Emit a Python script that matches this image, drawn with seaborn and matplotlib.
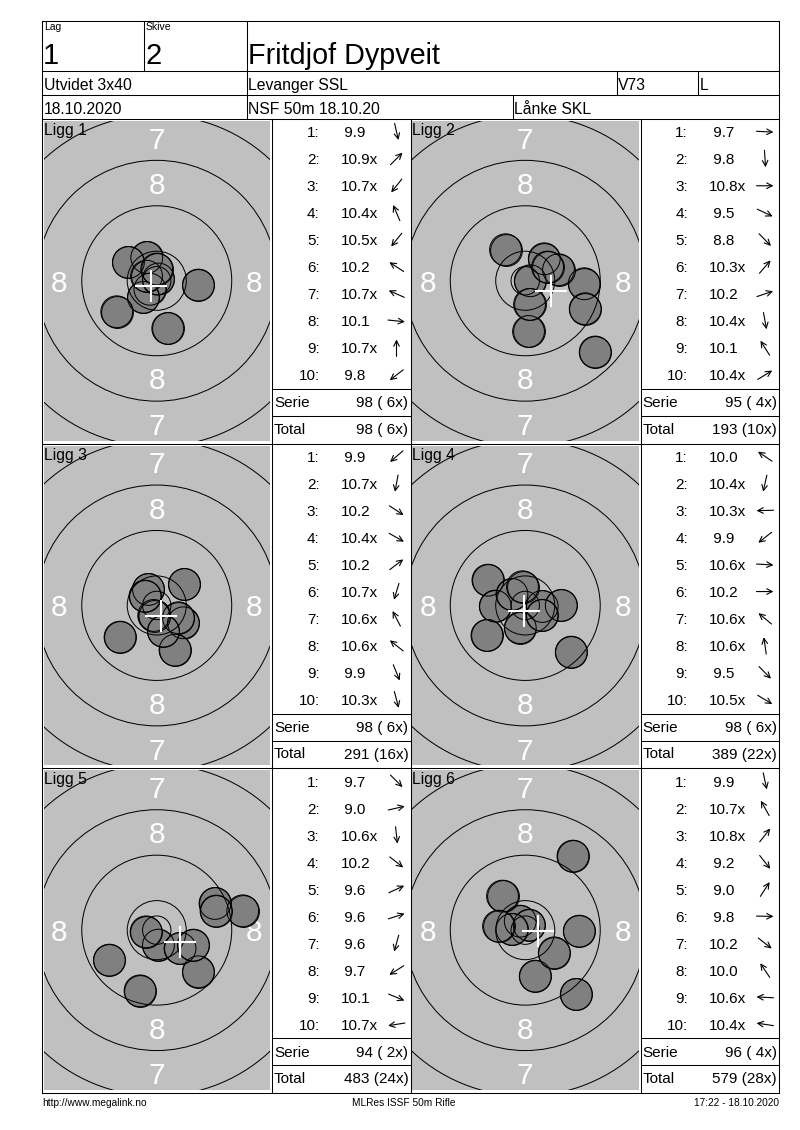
import math
import matplotlib
matplotlib.use("Agg")
import matplotlib.pyplot as plt
from matplotlib.patches import Circle
import seaborn as sns

plt.rcParams['font.family'] = ['Liberation Sans', 'DejaVu Sans']

# ---------------- data ----------------
LAG = "1"
SKIVE = "2"
NAME = "Fritdjof Dypveit"
CLASS_NAME = "Utvidet 3x40"
CLUB = "Levanger SSL"
CODE = "V73"
SIDE = "L"
DATE = "18.10.2020"
EVENT = "NSF 50m 18.10.20"
HOST = "Lånke SKL"
FOOTER_LEFT = "http://www.megalink.no"
FOOTER_MID = "MLRes ISSF 50m Rifle"
FOOTER_RIGHT = "17:22 - 18.10.2020"

TITLES = ["Ligg 1", "Ligg 2", "Ligg 3", "Ligg 4", "Ligg 5", "Ligg 6"]

L1_SCORE = ["9.9", "10.9x", "10.7x", "10.4x", "10.5x", "10.2", "10.7x", "10.1", "10.7x", "9.8"]
L1_X = [1.94, 0.30, -1.20, -1.76, -2.35, -4.99, -1.80, 7.34, 0.00, -7.04]
L1_Y = [-8.40, 0.30, -1.50, 4.10, -2.94, 3.23, 0.80, -0.76, 2.05, -5.46]

L2_SCORE = ["9.7", "9.8", "10.8x", "9.5", "8.8", "10.3x", "10.2", "10.4x", "10.1", "10.4x"]
L2_X = [10.39, 0.58, 0.88, 10.56, 12.32, 3.35, 5.86, 0.76, -3.47, 3.93]
L2_Y = [-0.53, -8.93, 0.00, -4.93, -12.55, 3.87, 1.94, -4.17, 5.46, 2.41]

L3_SCORE = ["9.9", "10.7x", "10.2", "10.4x", "10.2", "10.7x", "10.6x", "10.6x", "9.9", "10.3x"]
L3_X = [-6.46, -0.35, 4.70, 3.82, 4.88, -0.53, -1.46, -2.06, 3.22, 1.18]
L3_Y = [-5.58, -1.94, -3.05, -2.17, 3.70, -1.76, 2.82, 1.64, -7.87, -4.52]

L4_SCORE = ["10.0", "10.4x", "10.3x", "9.9", "10.6x", "10.2", "10.6x", "10.6x", "9.5", "10.5x"]
L4_X = [-6.57, -0.88, -5.28, -6.74, 2.99, 6.34, -2.34, -0.48, 8.10, 2.94]
L4_Y = [4.45, -3.93, -0.12, -5.28, -0.18, 0.00, 1.94, 3.29, -8.22, -1.76]

L5_SCORE = ["9.7", "9.0", "10.6x", "10.2", "9.6", "9.6", "9.6", "9.7", "10.1", "10.7x"]
L5_X = [7.34, 15.14, 0.30, 4.10, 10.26, 10.44, -2.94, -8.33, 6.46, -1.88]
L5_Y = [-7.34, 3.40, -2.64, -3.22, 4.70, 3.35, -10.69, -5.28, -2.64, -0.30]

L6_SCORE = ["9.9", "10.7x", "10.8x", "9.2", "9.0", "9.8", "10.2", "10.0", "10.6x", "10.4x"]
L6_X = [1.76, -0.88, 0.70, 8.98, 8.40, 9.51, 5.11, -4.00, -2.34, -4.70]
L6_Y = [-8.10, 1.58, 0.88, -11.32, 13.03, -0.18, -4.00, 5.99, 0.12, 0.70]

SERIE = ["98 ( 6x)", "95 ( 4x)", "98 ( 6x)", "98 ( 6x)", "94 ( 2x)", "96 ( 4x)"]
TOTAL = ["98 ( 6x)", "193 (10x)", "291 (16x)", "389 (22x)", "483 (24x)", "579 (28x)"]

RING_RADII_MM = [29.2, 21.2, 13.2, 5.2, 2.5]
RING_LABELS = ["7", "8"]          # zones between consecutive outer rings
SHOT_RADIUS_MM = 2.8

PANELS = [
    (L1_SCORE, L1_X, L1_Y), (L2_SCORE, L2_X, L2_Y),
    (L3_SCORE, L3_X, L3_Y), (L4_SCORE, L4_X, L4_Y),
    (L5_SCORE, L5_X, L5_Y), (L6_SCORE, L6_X, L6_Y),
]

# ---------------- layout (pixels) ----------------
W, H = 800, 1130
PX_PER_MM = 5.68
LEFT, RIGHT, TOP = 42, 779, 21
ROW1_B, ROW2_B, ROW3_B = 70.5, 94.5, 119
PANEL_H = 324.7
COL_X = [42, 410.5]
RECT_W, RECT_H = 226.5, 319.5
TABLE_OFF = 230
BOTTOM = ROW3_B + 3 * PANEL_H

LW = 0.75
BLACK = "black"

fig = plt.figure(figsize=(W / 100, H / 100), dpi=100)
fig.patch.set_facecolor("white")

# ---------------- targets ----------------
shot_s = (2 * SHOT_RADIUS_MM * PX_PER_MM * 0.72) ** 2
for k, (scores, xs, ys) in enumerate(PANELS):
    r, c = divmod(k, 2)
    x0 = COL_X[c]
    y0 = ROW3_B + r * PANEL_H
    rl, rt = x0 + 1.5, y0 + 2
    ax = fig.add_axes([rl / W, 1 - (rt + RECT_H) / H, RECT_W / W, RECT_H / H])
    ax.set_facecolor("#c0c0c0")
    for sp in ax.spines.values():
        sp.set_visible(False)
    ax.set_xticks([])
    ax.set_yticks([])

    # zone labels
    for lab, r_out, r_in in zip(RING_LABELS, RING_RADII_MM[:-1], RING_RADII_MM[1:]):
        rm = (r_out + r_in) / 2
        for px, py in [(0, rm), (0, -rm), (rm, 0), (-rm, 0)]:
            ax.text(px, py, lab, color="white", fontsize=21.5, ha="center",
                    va="center_baseline", clip_on=True, zorder=1.5)

    # shots: fill then all outlines
    sns.scatterplot(x=xs, y=ys, ax=ax, s=shot_s, color="#808080",
                    edgecolor=BLACK, linewidth=0.72, legend=False, zorder=2)
    ax.scatter(xs, ys, s=shot_s, facecolors="none", edgecolors=BLACK,
               linewidths=0.72, zorder=3)

    # rings
    for rr in RING_RADII_MM:
        ax.add_patch(Circle((0, 0), rr, fill=False, ec=BLACK, lw=0.72, zorder=4))

    # group centre cross
    mx = sum(xs) / len(xs)
    my = sum(ys) / len(ys)
    arm = SHOT_RADIUS_MM
    ax.plot([mx - arm, mx + arm], [my, my], color="white", lw=1.5, zorder=5,
            solid_capstyle="butt")
    ax.plot([mx, mx], [my - arm, my + arm], color="white", lw=1.5, zorder=5,
            solid_capstyle="butt")

    hw = RECT_W / 2 / PX_PER_MM
    hh = RECT_H / 2 / PX_PER_MM
    ax.set_xlim(-hw, hw)
    ax.set_ylim(-hh, hh)

# ---------------- overlay: frame, tables, text ----------------
ov = fig.add_axes([0, 0, 1, 1])
ov.set_zorder(10)
ov.set_xlim(0, W)
ov.set_ylim(H, 0)
ov.axis("off")


def hline(y, x1, x2):
    ov.plot([x1, x2], [y, y], color=BLACK, lw=LW, solid_capstyle="projecting")


def vline(x, y1, y2):
    ov.plot([x, x], [y1, y2], color=BLACK, lw=LW, solid_capstyle="projecting")


for y in [TOP, ROW1_B, ROW2_B, ROW3_B, ROW3_B + PANEL_H, ROW3_B + 2 * PANEL_H, BOTTOM]:
    hline(y, LEFT, RIGHT)
vline(LEFT, TOP, BOTTOM)
vline(RIGHT, TOP, BOTTOM)
vline(143.5, TOP, ROW1_B)
vline(246.5, TOP, ROW3_B)
vline(616.5, ROW1_B, ROW2_B)
vline(698, ROW1_B, ROW2_B)
vline(513, ROW2_B, ROW3_B)
for c in range(2):
    vline(COL_X[c] + TABLE_OFF, ROW3_B, BOTTOM)
vline(COL_X[1], ROW3_B, BOTTOM)

# header text
ov.text(44, 30.5, "Lag", fontsize=7.5, va="baseline", ha="left")
ov.text(146, 30.5, "Skive", fontsize=7.5, va="baseline", ha="left")
ov.text(43, 63.5, LAG, fontsize=21, va="baseline", ha="left")
ov.text(145.5, 63.5, SKIVE, fontsize=21, va="baseline", ha="left")
ov.text(247.5, 63.5, NAME, fontsize=20.7, va="baseline", ha="left")
ov.text(44, 90, CLASS_NAME, fontsize=11.3, va="baseline", ha="left")
ov.text(248, 90, CLUB, fontsize=11.3, va="baseline", ha="left")
ov.text(618, 90, CODE, fontsize=11.3, va="baseline", ha="left")
ov.text(700, 90, SIDE, fontsize=11.3, va="baseline", ha="left")
ov.text(44, 114.5, DATE, fontsize=11.3, va="baseline", ha="left")
ov.text(248, 114.5, EVENT, fontsize=11.3, va="baseline", ha="left")
ov.text(514.5, 114.5, HOST, fontsize=11.3, va="baseline", ha="left")

# panels: titles and tables
for k, (scores, xs, ys) in enumerate(PANELS):
    r, c = divmod(k, 2)
    x0 = COL_X[c]
    y0 = ROW3_B + r * PANEL_H
    tx = x0 + TABLE_OFF
    tr = RIGHT if c == 1 else COL_X[1]
    ov.text(x0 + 1.5, y0 + 16, TITLES[k], fontsize=11.3, va="baseline", ha="left")

    for i, (sc, sx, sy) in enumerate(zip(scores, xs, ys)):
        yc = y0 + 12.7 + 27.03 * i
        ov.text(tx + 47.5, yc, f"{i + 1}:", fontsize=11, ha="right", va="center_baseline")
        label = sc if sc.startswith("10") else " " + sc
        ov.text(tx + 68.5, yc, label, fontsize=11, ha="left", va="center_baseline")
        th = math.atan2(sy, sx)
        dx, dy = math.cos(th), -math.sin(th)
        ac = tx + 124.5
        L = 8.5
        ov.annotate("", xy=(ac + L * dx, yc + L * dy), xytext=(ac - L * dx, yc - L * dy),
                    arrowprops=dict(arrowstyle="->", lw=0.8, color=BLACK,
                                    shrinkA=0, shrinkB=0, mutation_scale=10))

    hline(y0 + 270, tx, tr)
    hline(y0 + 297, tx, tr)
    ov.text(tx + 2, y0 + 282.7, "Serie", fontsize=11, ha="left", va="center_baseline")
    ov.text(tr - 2, y0 + 282.7, SERIE[k], fontsize=11, ha="right", va="center_baseline")
    ov.text(tx + 2, y0 + 309.3, "Total", fontsize=11, ha="left", va="center_baseline")
    ov.text(tr - 2, y0 + 309.3, TOTAL[k], fontsize=11, ha="right", va="center_baseline")

# footer
ov.text(LEFT, 1102, FOOTER_LEFT, fontsize=7.3, ha="left", va="center_baseline")
ov.text(404, 1102, FOOTER_MID, fontsize=7.3, ha="center", va="center_baseline")
ov.text(RIGHT, 1102, FOOTER_RIGHT, fontsize=7.3, ha="right", va="center_baseline")

fig.savefig("out.png", dpi=100, facecolor="white")
